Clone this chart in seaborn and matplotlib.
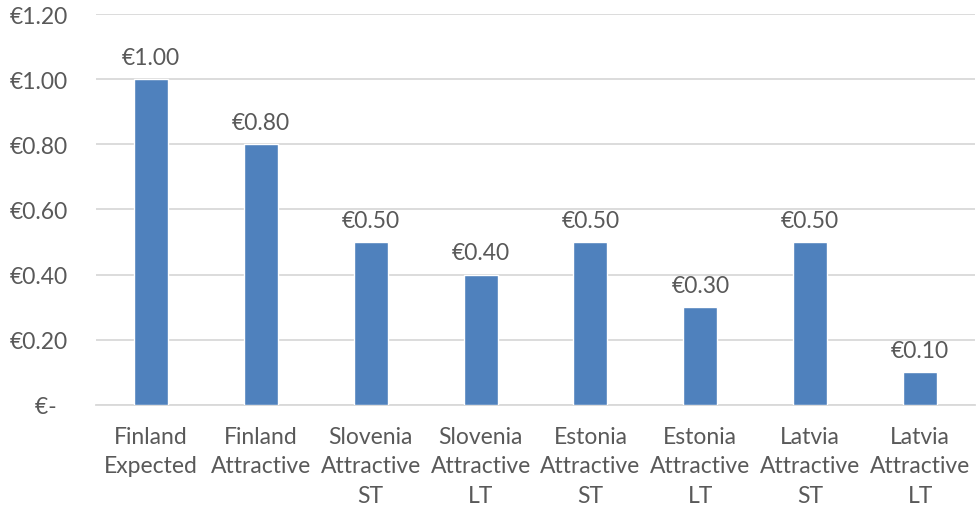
import matplotlib
matplotlib.use("Agg")
import matplotlib.pyplot as plt
import seaborn as sns
import pandas as pd

categories = [
    "Finland\nExpected", "Finland\nAttractive", "Slovenia\nAttractive\nST",
    "Slovenia\nAttractive\nLT", "Estonia\nAttractive\nST", "Estonia\nAttractive\nLT",
    "Latvia\nAttractive\nST", "Latvia\nAttractive\nLT",
]
values = [1.00, 0.80, 0.50, 0.40, 0.50, 0.30, 0.50, 0.10]
y_ticks = [0.0, 0.2, 0.4, 0.6, 0.8, 1.0, 1.2]
y_tick_labels = ["€-  ", "€0.20", "€0.40", "€0.60", "€0.80", "€1.00", "€1.20"]

sns.set_theme(style="white")
plt.rcParams["font.family"] = ["Lato", "DejaVu Sans"]

text_color = "#595959"
grid_color = "#D9D9D9"
bar_color = "#4F81BD"
font_size = 16.5

df = pd.DataFrame({"category": categories, "value": values})

fig = plt.figure(figsize=(9.79, 5.06), dpi=100)
ax = fig.add_axes([0.098, 0.198, 0.898, 0.772])

sns.barplot(data=df, x="category", y="value", color=bar_color, width=0.31,
            saturation=1, ax=ax, zorder=3)

ax.set_ylim(0, 1.2)
ax.set_xlim(-0.5, len(categories) - 0.5)
ax.set_yticks(y_ticks)
ax.set_yticklabels(y_tick_labels)
ax.yaxis.grid(True, color=grid_color, linewidth=1.3, zorder=0)
ax.set_axisbelow(True)
for side in ["left", "right", "top"]:
    ax.spines[side].set_visible(False)
ax.spines["bottom"].set_color(grid_color)
ax.spines["bottom"].set_linewidth(1.3)
ax.set_xlabel("")
ax.set_ylabel("")
ax.tick_params(axis="y", length=0, pad=20, labelsize=font_size, labelcolor=text_color)
ax.tick_params(axis="x", length=0, pad=15, labelsize=font_size, labelcolor=text_color)
for lbl in ax.get_xticklabels():
    lbl.set_linespacing(1.52)

for i, v in enumerate(values):
    ax.annotate(f"€{v:.2f}", (i, v), xytext=(0, 8), textcoords="offset points",
                ha="center", va="bottom", fontsize=font_size, color=text_color)

fig.savefig("out.png", dpi=100)
